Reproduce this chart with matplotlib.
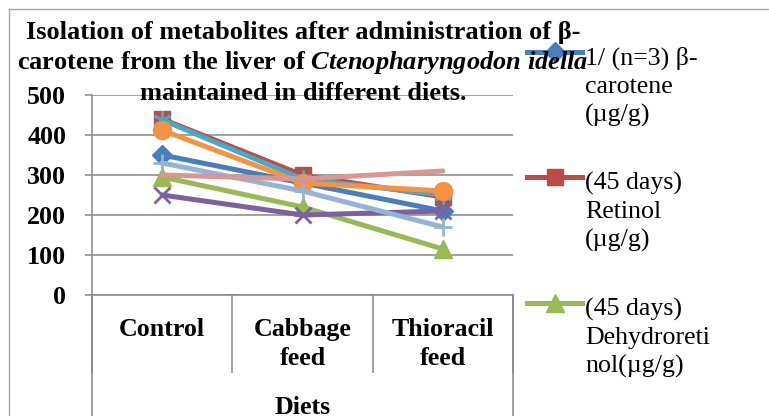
import numpy as np
import matplotlib.pyplot as plt
import matplotlib.transforms as mtransforms
from matplotlib.lines import Line2D

plt.rcParams['font.family'] = ['Liberation Serif', 'DejaVu Serif']
plt.rcParams['mathtext.fontset'] = 'custom'
plt.rcParams['mathtext.rm'] = 'Liberation Serif:bold'
plt.rcParams['mathtext.it'] = 'Liberation Serif:italic:bold'

# data
diets = ['Control', 'Cabbage\nfeed', 'Thioracil\nfeed']
beta_carotene = [350, 280, 210]
retinol = [440, 300, 245]
dehydroretinol = [295, 220, 115]
series4 = [250, 200, 210]
series5 = [438, 290, 250]
series6 = [412, 280, 260]
series7 = [330, 260, 170]
series8 = [300, 290, 310]

legend_labels = ['1/ (n=3) \u03b2-\ncarotene\n(\u00b5g/g)',
                 '(45 days)\nRetinol\n(\u00b5g/g)',
                 '(45 days)\nDehydroreti\nnol(\u00b5g/g)']

title_lines = ['Isolation of metabolites after administration of \u03b2-',
               r'carotene from the liver of $Ctenopharyngodon\ idella$',
               'maintained in different diets.']

W, H = 769, 416
fig = plt.figure(figsize=(W / 100, H / 100), dpi=100)
ax = fig.add_axes([92 / W, 1 - 295 / H, (513 - 92) / W, 200 / H])

grey = '#868686'
x = np.arange(len(diets))
# (values, colour, marker, size, edge width)
styles = [
    (beta_carotene, '#4A7EBB', 'D', 10, 1),
    (retinol, '#BE4B48', 's', 12, 1),
    (dehydroretinol, '#98B954', '^', 13, 1),
    (series4, '#7D60A0', 'x', 12, 2),
    (series5, '#46AAC5', (6, 2, 0), 13, 2),
    (series6, '#F69240', 'o', 13, 1),
    (series7, '#95B3D7', '+', 13, 2),
    (series8, '#D99694', None, 0, 1),
]
for vals, c, m, ms, mew in styles:
    ax.plot(x, vals, color=c, lw=3.6, marker=m, ms=ms, mfc=c, mec=c, mew=mew,
            solid_capstyle='round', solid_joinstyle='round', clip_on=False)

ax.set_xlim(-0.5, 2.5)
ax.set_ylim(0, 500)
ax.set_yticks(range(0, 501, 100))
ax.yaxis.grid(True, color=grey, lw=1.1)
ax.set_axisbelow(True)
for s in ['top', 'right']:
    ax.spines[s].set_visible(False)
ax.spines['left'].set_color(grey)
ax.spines['bottom'].set_color(grey)
ax.spines['left'].set_linewidth(1.1)
ax.spines['bottom'].set_linewidth(1.1)

ax.tick_params(axis='y', length=5, width=1.1, color=grey, pad=13.5, labelsize=18.7)
for lbl in ax.get_yticklabels():
    lbl.set_fontweight('bold')

ax.set_xticks(x, diets, fontsize=18.7, fontweight='bold', linespacing=1.32)
ax.tick_params(axis='x', which='major', length=0, pad=16.5)
ax.set_xticks([-0.5, 0.5, 1.5, 2.5], minor=True)
ax.tick_params(axis='x', which='minor', length=56, width=1.1, color=grey)

# outer category lines running down to the second level
trans = mtransforms.blended_transform_factory(ax.transData, ax.transAxes)
for xb in [-0.5, 2.5]:
    ax.add_line(Line2D([xb, xb], [0, -(H - 295) / 200], transform=trans,
                       color=grey, lw=1.1, clip_on=False))

fig.text(302.5 / W, 1 - 414 / H, 'Diets', ha='center', va='baseline',
         fontsize=18.7, fontweight='bold')

# title, one text per line
for i, line in enumerate(title_lines):
    fig.text(303 / W, 1 - (39 + 30.3 * i) / H, line, ha='center', va='baseline',
             fontsize=19, fontweight='bold')

# legend (only the first three entries are visible)
for (vals, c, m, ms, mew), lab, yy in zip(styles[:3], legend_labels, [52, 177, 303]):
    fig.add_artist(Line2D([527 / W, 554.5 / W, 582 / W], [1 - yy / H] * 3,
                          transform=fig.transFigure, color=c, lw=3.6, marker=m,
                          ms=ms, mfc=c, mec=c, markevery=[1]))
    fig.text(585 / W, 1 - (yy - 5) / H, lab, ha='left', va='top',
             fontsize=18.6, linespacing=1.33)

# chart border
fig.add_artist(Line2D([9 / W, 9 / W], [0, 1 - 9 / H], transform=fig.transFigure,
                      color='#a6a6a6', lw=1))
fig.add_artist(Line2D([9 / W, 1], [1 - 9 / H, 1 - 9 / H], transform=fig.transFigure,
                      color='#a6a6a6', lw=1))

fig.savefig('out.png', dpi=100)
